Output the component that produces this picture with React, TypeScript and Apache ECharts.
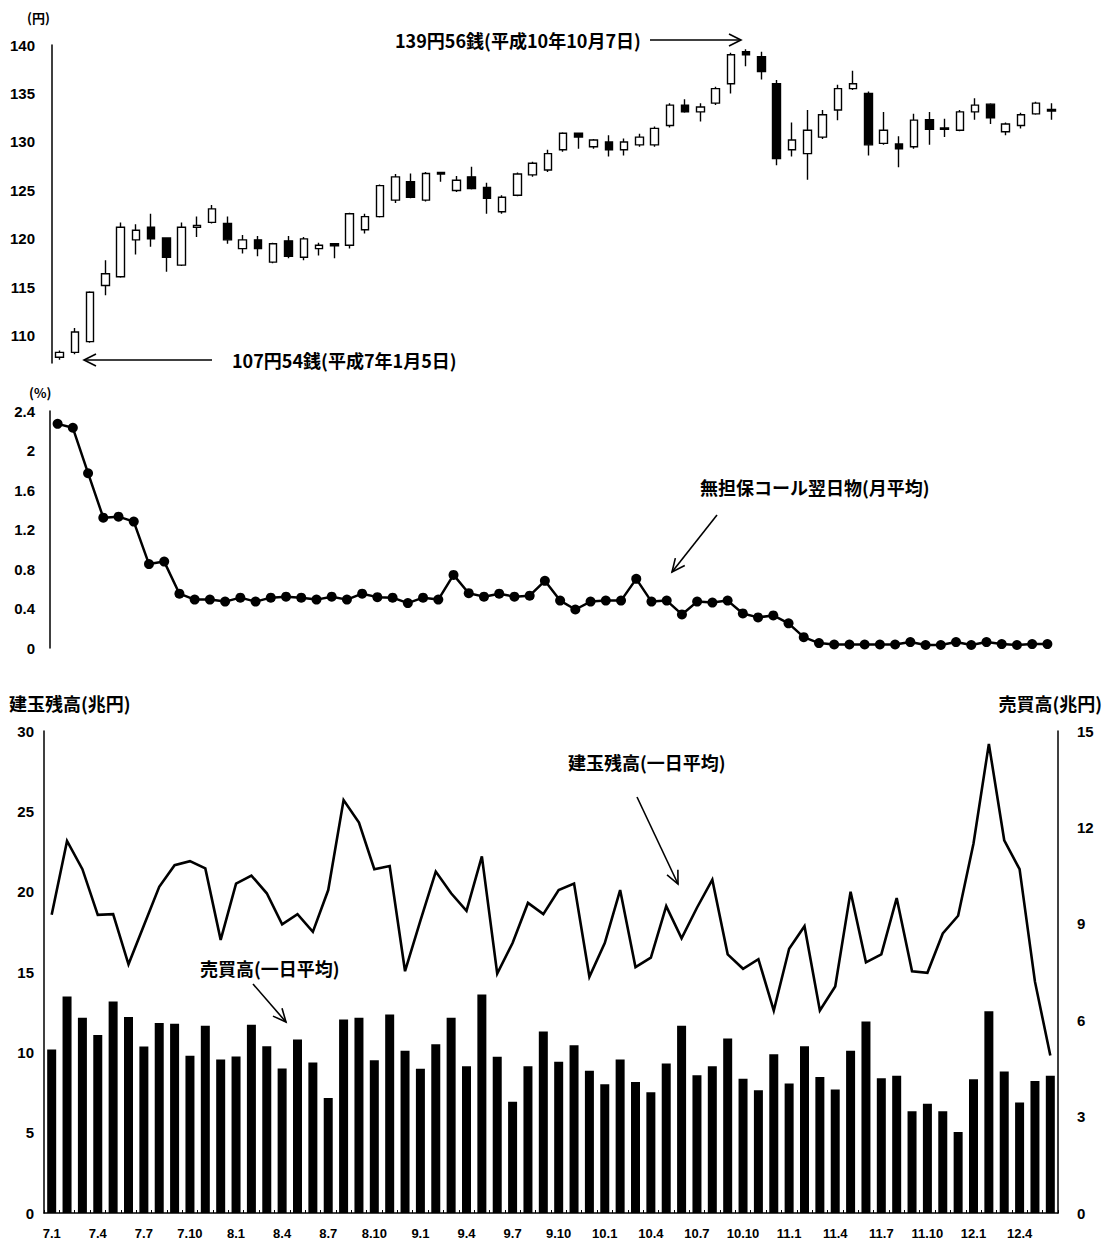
import React, { useEffect, useRef } from 'react';
import * as echarts from 'echarts';

const months = [
  '7.1','7.2','7.3','7.4','7.5','7.6','7.7','7.8','7.9','7.10','7.11','7.12',
  '8.1','8.2','8.3','8.4','8.5','8.6','8.7','8.8','8.9','8.10','8.11','8.12',
  '9.1','9.2','9.3','9.4','9.5','9.6','9.7','9.8','9.9','9.10','9.11','9.12',
  '10.1','10.2','10.3','10.4','10.5','10.6','10.7','10.8','10.9','10.10','10.11','10.12',
  '11.1','11.2','11.3','11.4','11.5','11.6','11.7','11.8','11.9','11.10','11.11','11.12',
  '12.1','12.2','12.3','12.4','12.5','12.6'
];

// 国債先物価格（月足）
const priceOpen = [
  107.8,108.3,109.4,115.2,116.1,119.9,121.2,120.1,117.3,121.2,121.7,121.6,
  119.0,119.9,117.6,119.8,118.1,119.0,119.5,119.35,120.95,122.3,124.0,125.9,
  124.0,126.85,125.0,126.4,125.3,122.8,124.5,126.6,127.1,129.2,130.9,129.5,
  130.0,129.2,129.7,129.7,131.7,133.8,133.1,134.0,136.0,139.3,138.8,136.0,
  129.2,128.8,130.5,133.3,135.5,135.0,129.85,129.8,129.5,132.3,131.45,131.2,
  133.1,133.9,131.05,131.7,132.9,133.35
];
const priceClose = [
  108.3,110.4,114.5,116.4,121.2,120.9,120.0,118.1,121.2,121.4,123.1,119.9,
  119.9,119.0,119.5,118.2,120.0,119.35,119.3,122.6,122.3,125.5,126.4,124.3,
  126.75,126.7,126.05,125.2,124.2,124.3,126.7,127.8,128.8,130.9,130.5,130.2,
  129.2,130.0,130.5,131.4,133.8,133.1,133.6,135.5,139.0,139.0,137.25,128.3,
  130.2,131.2,132.8,135.5,136.0,129.7,131.2,129.3,132.25,131.3,131.3,133.1,
  133.8,132.5,131.85,132.8,134.0,133.2
];
const priceLow = [
  107.54,108.1,109.3,114.2,116.0,118.4,119.2,116.6,117.2,120.2,121.6,119.5,
  118.5,118.2,117.5,118.0,117.8,118.3,118.0,119.0,120.55,122.2,123.7,124.2,
  123.85,125.9,124.85,125.1,122.6,122.6,124.4,126.4,126.9,129.0,129.3,129.3,
  128.5,128.6,129.5,129.5,131.5,133.0,132.1,133.8,135.0,137.8,136.45,127.6,
  128.5,126.1,130.3,132.25,135.35,128.6,129.7,127.4,129.3,129.7,130.5,131.1,
  132.3,131.85,130.7,131.4,132.8,132.3
];
const priceHigh = [
  108.5,110.8,114.6,117.8,121.7,121.5,122.6,120.1,121.7,122.3,123.5,122.3,
  120.4,120.3,119.6,120.3,120.2,119.6,119.55,122.7,122.6,125.6,126.7,126.75,
  126.9,126.9,126.5,127.45,125.8,124.5,126.85,127.95,129.2,131.0,130.95,130.3,
  130.7,130.35,130.85,131.6,134.0,134.4,134.0,135.7,139.2,139.56,139.3,136.4,
  132.0,133.3,133.3,135.9,137.35,135.2,133.1,130.6,132.9,133.1,132.4,133.3,
  134.5,134.0,132.0,133.0,134.15,134.0
];
const priceTicks = [110, 115, 120, 125, 130, 135, 140];

// 無担保コール翌日物（月平均, %）
const callRate = [
  2.27,2.23,1.77,1.32,1.33,1.28,0.85,0.875,0.55,0.49,0.49,0.47,
  0.51,0.47,0.51,0.52,0.51,0.49,0.52,0.49,0.55,0.515,0.51,0.455,
  0.51,0.49,0.74,0.555,0.52,0.55,0.52,0.53,0.68,0.48,0.39,0.47,
  0.48,0.48,0.70,0.47,0.48,0.34,0.47,0.46,0.48,0.35,0.31,0.33,
  0.25,0.11,0.05,0.035,0.035,0.035,0.035,0.035,0.06,0.03,0.03,0.06,
  0.03,0.06,0.04,0.03,0.04,0.04
];

// 建玉残高（一日平均, 兆円）
const openInterest = [
  18.56,23.16,21.4,18.56,18.6,15.48,17.9,20.3,21.65,21.9,21.45,17.0,
  20.5,21.0,19.9,17.96,18.6,17.5,20.1,25.7,24.3,21.4,21.6,15.05,
  18.2,21.25,19.9,18.8,22.2,14.9,16.8,19.3,18.6,20.1,20.5,14.7,
  16.8,20.1,15.3,15.9,19.1,17.1,19.0,20.75,16.1,15.2,15.8,12.6,
  16.45,17.85,12.6,14.1,20.0,15.6,16.1,19.6,15.05,14.95,17.4,18.5,
  23.0,29.2,23.2,21.4,14.4,9.8
];

// 売買高（一日平均, 兆円）
const tradingVolume = [
  5.09,6.74,6.08,5.54,6.58,6.1,5.18,5.91,5.89,4.89,5.83,4.78,
  4.87,5.86,5.19,4.5,5.4,4.68,3.58,6.02,6.08,4.75,6.18,5.05,
  4.49,5.25,6.08,4.57,6.8,4.86,3.46,4.57,5.65,4.71,5.22,4.43,
  4.01,4.78,4.08,3.76,4.65,5.83,4.29,4.57,5.43,4.18,3.82,4.94,
  4.03,5.19,4.23,3.84,5.05,5.96,4.19,4.27,3.17,3.4,3.17,2.52,
  4.16,6.28,4.4,3.44,4.11,4.27
];

const NUM_FONT = "'Liberation Sans', Arial, sans-serif";
const JP_FONT = "'Noto Sans CJK JP', 'Noto Sans', sans-serif";

function txt(text: string, x: number, y: number, size: number, align = 'left') {
  return {
    type: 'text',
    x,
    y,
    style: {
      text,
      fill: '#000',
      font: `bold ${size}px ${JP_FONT}`,
      align,
      textAlign: align,
      verticalAlign: 'middle',
      textVerticalAlign: 'middle',
    },
  };
}

function arrow(x1: number, y1: number, x2: number, y2: number, head = 12, spread = 6) {
  const dx = x2 - x1;
  const dy = y2 - y1;
  const len = Math.sqrt(dx * dx + dy * dy);
  const ux = dx / len;
  const uy = dy / len;
  const bx = x2 - ux * head;
  const by = y2 - uy * head;
  const px = -uy * spread;
  const py = ux * spread;
  return [
    { type: 'line', shape: { x1, y1, x2, y2 }, style: { stroke: '#000', lineWidth: 1.6 } },
    {
      type: 'polyline',
      shape: { points: [[bx + px, by + py], [x2, y2], [bx - px, by - py]] },
      style: { stroke: '#000', lineWidth: 1.6, fill: null },
    },
  ];
}

export default function App() {
  const ref = useRef<HTMLDivElement>(null);

  useEffect(() => {
    const chart = echarts.init(ref.current!, null, { renderer: 'svg' });
    const candles = months.map((_, i) => [priceOpen[i], priceClose[i], priceLow[i], priceHigh[i]]);
    const axisLabelStyle = { color: '#000', fontSize: 15, fontWeight: 'bold', fontFamily: NUM_FONT };
    const axisLineStyle = { show: true, lineStyle: { color: '#000', width: 1.5 } };

    const option: any = {
      animation: false,
      backgroundColor: '#fff',
      grid: [
        { left: 52, top: 45, width: 1007, height: 318 },
        { left: 50, top: 411, width: 1005, height: 237 },
        { left: 44, top: 731, width: 1014, height: 482 },
      ],
      xAxis: [
        { type: 'category', gridIndex: 0, data: months, show: false, boundaryGap: true },
        { type: 'category', gridIndex: 1, data: months, show: false, boundaryGap: true },
        {
          type: 'category',
          gridIndex: 2,
          data: months,
          boundaryGap: true,
          axisLine: axisLineStyle,
          axisTick: { show: true, inside: true, length: 3, interval: 0, lineStyle: { color: '#000' } },
          axisLabel: { ...axisLabelStyle, fontSize: 13, interval: 2, margin: 14 },
          splitLine: { show: false },
        },
      ],
      yAxis: [
        {
          type: 'value',
          gridIndex: 0,
          min: 107.2,
          max: 140,
          axisLine: axisLineStyle,
          axisTick: { show: false },
          splitLine: { show: false },
          axisLabel: { ...axisLabelStyle, margin: 17, customValues: priceTicks, showMinLabel: true },
        },
        {
          type: 'value',
          gridIndex: 1,
          min: 0,
          max: 2.4,
          interval: 0.4,
          axisLine: axisLineStyle,
          axisTick: { show: false },
          splitLine: { show: false },
          axisLabel: { ...axisLabelStyle, margin: 15 },
        },
        {
          type: 'value',
          gridIndex: 2,
          position: 'left',
          min: 0,
          max: 30,
          interval: 5,
          axisLine: axisLineStyle,
          axisTick: { show: false },
          splitLine: { show: false },
          axisLabel: { ...axisLabelStyle, margin: 10 },
        },
        {
          type: 'value',
          gridIndex: 2,
          position: 'right',
          min: 0,
          max: 15,
          interval: 3,
          axisLine: axisLineStyle,
          axisTick: { show: false },
          splitLine: { show: false },
          axisLabel: { ...axisLabelStyle, margin: 19 },
        },
      ],
      series: [
        {
          type: 'candlestick',
          xAxisIndex: 0,
          yAxisIndex: 0,
          data: candles,
          barWidth: 8,
          itemStyle: {
            color: '#fff',
            color0: '#000',
            borderColor: '#000',
            borderColor0: '#000',
            borderWidth: 1.4,
          },
        },
        {
          type: 'line',
          xAxisIndex: 1,
          yAxisIndex: 1,
          data: callRate,
          symbol: 'circle',
          symbolSize: 10,
          itemStyle: { color: '#000' },
          lineStyle: { color: '#000', width: 2.5 },
        },
        {
          type: 'bar',
          xAxisIndex: 2,
          yAxisIndex: 3,
          data: tradingVolume,
          barWidth: 9,
          itemStyle: { color: '#000' },
        },
        {
          type: 'line',
          xAxisIndex: 2,
          yAxisIndex: 2,
          data: openInterest,
          showSymbol: false,
          symbol: 'none',
          z: 5,
          lineStyle: { color: '#000', width: 2.6, join: 'miter' },
        },
      ],
      graphic: [
        txt('(円)', 27, 17, 13),
        txt('(%)', 29, 392, 13),
        txt('建玉残高(兆円)', 9, 703, 18),
        txt('売買高(兆円)', 1102, 703, 18, 'right'),
        txt('139円56銭(平成10年10月7日)', 395, 40, 18),
        ...arrow(650, 40, 741, 40, 12, 6),
        txt('107円54銭(平成7年1月5日)', 232, 360, 18),
        ...arrow(212, 360, 84, 360, 12, 6),
        txt('無担保コール翌日物(月平均)', 700, 487, 18),
        ...arrow(717, 515, 672, 572, 13, 6),
        txt('建玉残高(一日平均)', 568, 762, 18),
        ...arrow(637, 797, 678, 884, 13, 6),
        txt('売買高(一日平均)', 200, 968, 18),
        ...arrow(253, 984, 286, 1022, 13, 6),
      ],
    };

    chart.setOption(option);
    return () => chart.dispose();
  }, []);

  return (
    <div
      ref={ref}
      style={{ position: 'absolute', left: 0, top: 0, width: 1107, height: 1245, background: '#fff' }}
    />
  );
}
